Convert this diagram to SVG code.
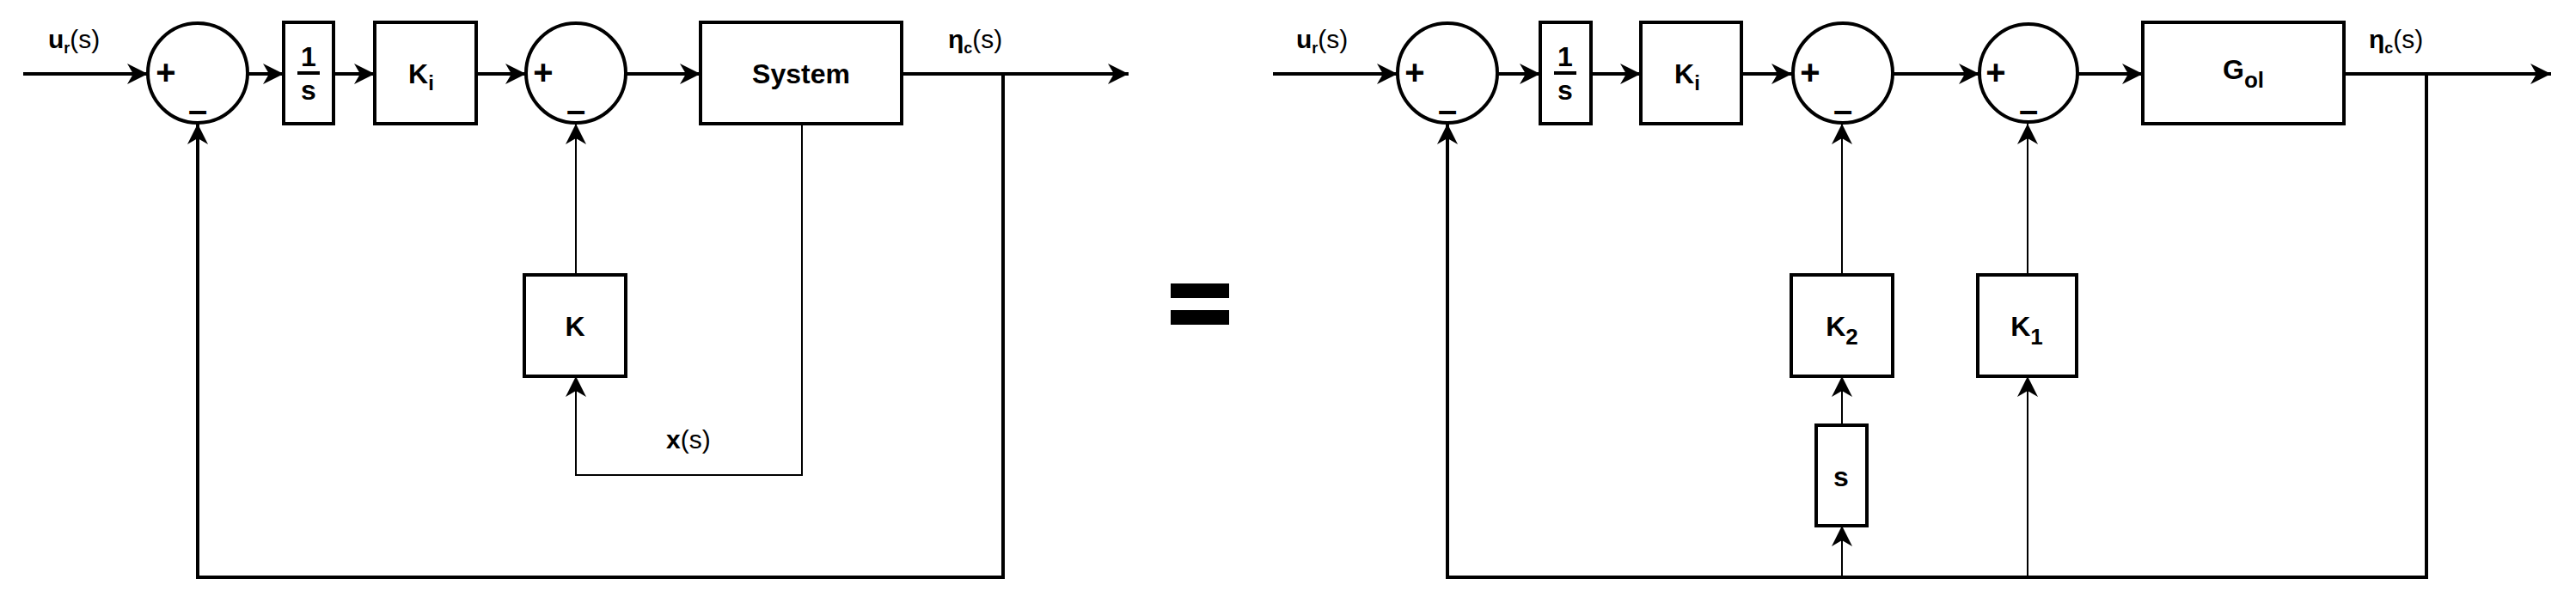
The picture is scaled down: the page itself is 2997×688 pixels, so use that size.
<svg xmlns="http://www.w3.org/2000/svg" width="2997" height="688" viewBox="0 0 2997 688">
<style>
.s{fill:#fff;stroke:#000;stroke-width:4}
.c{fill:none;stroke:#000;stroke-width:4}
.t{stroke-width:2}
text{font-family:"Liberation Sans",Arial,sans-serif;font-weight:bold;fill:#000}
.b{font-size:32px;text-anchor:middle}
.l{font-size:30px}
.n{font-weight:normal}
.sg{font-size:40px;text-anchor:middle}
</style>
<defs>
<marker id="a" markerUnits="userSpaceOnUse" markerWidth="26" markerHeight="24" refX="24" refY="12" orient="auto">
<path d="M0,0 L24,12 L0,24 L7,12 z" fill="#000"/>
</marker>
</defs>
<g id="connectors">
<path class="c" d="M27,86 H172" marker-end="url(#a)"/>
<path class="c" d="M288,86 H330" marker-end="url(#a)"/>
<path class="c" d="M388,86 H436" marker-end="url(#a)"/>
<path class="c" d="M554,86 H612" marker-end="url(#a)"/>
<path class="c" d="M728,86 H815" marker-end="url(#a)"/>
<path class="c" d="M1049,86 H1313" marker-end="url(#a)"/>
<path class="c" d="M1167,86 V672 H230 V144" marker-end="url(#a)"/>
<path class="c t" d="M933,144 V553 H670 V438" marker-end="url(#a)"/>
<path class="c t" d="M670,320 V144" marker-end="url(#a)"/>
<path class="c" d="M1481,86 H1626" marker-end="url(#a)"/>
<path class="c" d="M1741,86 H1792" marker-end="url(#a)"/>
<path class="c" d="M1851,86 H1909" marker-end="url(#a)"/>
<path class="c" d="M2026,86 H2085" marker-end="url(#a)"/>
<path class="c" d="M2202,86 H2303" marker-end="url(#a)"/>
<path class="c" d="M2416,86 H2493" marker-end="url(#a)"/>
<path class="c" d="M2727,86 H2968" marker-end="url(#a)"/>
<path class="c" d="M2823,86 V672 H1684 V144" marker-end="url(#a)"/>
<path class="c t" d="M2143,320 V144" marker-end="url(#a)"/>
<path class="c t" d="M2359,320 V144" marker-end="url(#a)"/>
<path class="c t" d="M2143,495 V438" marker-end="url(#a)"/>
<path class="c t" d="M2143,672 V612" marker-end="url(#a)"/>
<path class="c t" d="M2359,672 V438" marker-end="url(#a)"/>
</g>
<g id="sum1"><circle class="s" cx="230" cy="85" r="58"/><text class="sg" x="193" y="98">+</text><text class="sg" x="230" y="142">–</text></g>
<g id="integ1"><rect class="s" x="330" y="26" width="58" height="118"/><text class="b" x="359" y="77">1</text><path d="M346,85 H372" stroke="#000" stroke-width="4"/><text class="b" x="359" y="116">s</text></g>
<g id="ki1"><rect class="s" x="436" y="26" width="118" height="118"/><text class="b" x="490" y="97">K<tspan font-size="24" dy="8">i</tspan></text></g>
<g id="sum2"><circle class="s" cx="670" cy="85" r="58"/><text class="sg" x="632" y="98">+</text><text class="sg" x="670" y="142">–</text></g>
<g id="system"><rect class="s" x="815" y="26" width="234" height="118"/><text class="b" x="932" y="97">System</text></g>
<g id="k"><rect class="s" x="610" y="320" width="118" height="118"/><text class="b" x="669" y="391">K</text></g>
<g id="labels1">
<text class="l" x="56" y="56">u<tspan font-size="18" dy="6">r</tspan><tspan class="n" dy="-6">(s)</tspan></text>
<text class="l" x="1103" y="56">η<tspan font-size="18" dy="6">c</tspan><tspan class="n" dy="-6">(s)</tspan></text>
<text class="l" x="775" y="522">x<tspan class="n">(s)</tspan></text>
</g>
<g id="equals"><rect x="1362" y="330" width="68" height="17"/><rect x="1362" y="361" width="68" height="17"/></g>
<g id="rsum1"><circle class="s" cx="1684" cy="85" r="58"/><text class="sg" x="1646" y="98">+</text><text class="sg" x="1684" y="142">–</text></g>
<g id="rinteg"><rect class="s" x="1792" y="26" width="59" height="118"/><text class="b" x="1821" y="77">1</text><path d="M1808,85 H1834" stroke="#000" stroke-width="4"/><text class="b" x="1821" y="116">s</text></g>
<g id="rki"><rect class="s" x="1909" y="26" width="117" height="118"/><text class="b" x="1963" y="97">K<tspan font-size="24" dy="8">i</tspan></text></g>
<g id="rsum2"><circle class="s" cx="2144" cy="85" r="58"/><text class="sg" x="2106" y="98">+</text><text class="sg" x="2144" y="142">–</text></g>
<g id="rsum3"><circle class="s" cx="2360" cy="85" r="57"/><text class="sg" x="2322" y="98">+</text><text class="sg" x="2360" y="142">–</text></g>
<g id="gol"><rect class="s" x="2493" y="26" width="234" height="118"/><text class="b" x="2610" y="92">G<tspan font-size="26" dy="10">ol</tspan></text></g>
<g id="k2"><rect class="s" x="2084" y="320" width="118" height="118"/><text class="b" x="2143" y="391">K<tspan font-size="26" dy="10">2</tspan></text></g>
<g id="k1"><rect class="s" x="2301" y="320" width="115" height="118"/><text class="b" x="2358" y="391">K<tspan font-size="26" dy="10">1</tspan></text></g>
<g id="s"><rect class="s" x="2113" y="495" width="59" height="117"/><text class="b" x="2142" y="566">s</text></g>
<g id="labels2">
<text class="l" x="1508" y="56">u<tspan font-size="18" dy="6">r</tspan><tspan class="n" dy="-6">(s)</tspan></text>
<text class="l" x="2756" y="56">η<tspan font-size="18" dy="6">c</tspan><tspan class="n" dy="-6">(s)</tspan></text>
</g>
</svg>
